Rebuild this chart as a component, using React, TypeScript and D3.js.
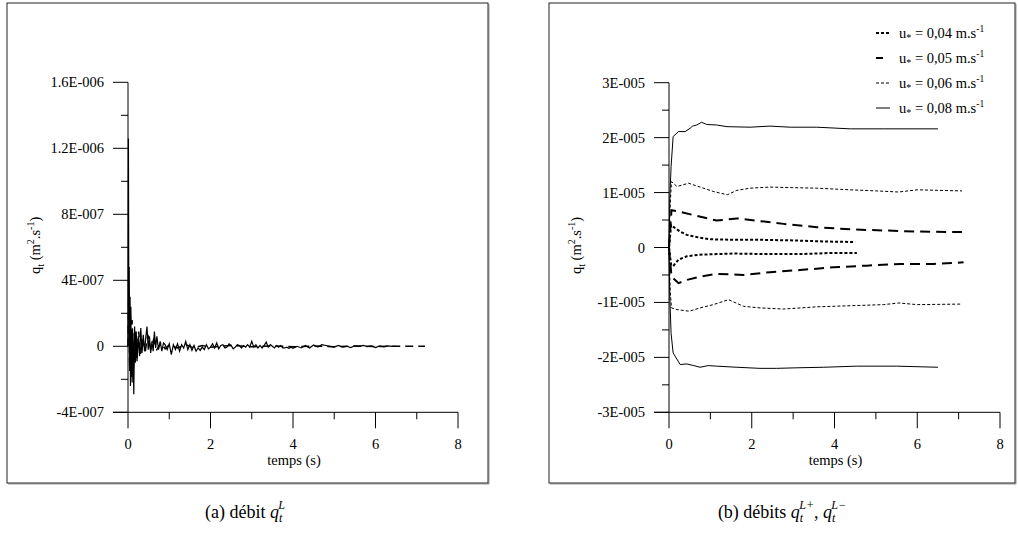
import React from "react";
import * as d3 from "d3";

// ---------- data ----------
const X_TICKS = [0, 2, 4, 6, 8];
const X_MINOR = [1, 3, 5, 7];

const LEFT_Y_TICKS = [-4e-7, 0, 4e-7, 8e-7, 1.2e-6, 1.6e-6];
const LEFT_Y_LABELS = ["-4E-007", "0", "4E-007", "8E-007", "1.2E-006", "1.6E-006"];
const LEFT_Y_MINOR = [-2e-7, 2e-7, 6e-7, 1e-6, 1.4e-6];

const RIGHT_Y_TICKS = [-3e-5, -2e-5, -1e-5, 0, 1e-5, 2e-5, 3e-5];
const RIGHT_Y_LABELS = ["-3E-005", "-2E-005", "-1E-005", "0", "1E-005", "2E-005", "3E-005"];
const RIGHT_Y_MINOR = [-2.5e-5, -1.5e-5, -5e-6, 5e-6, 1.5e-5, 2.5e-5];

// left panel: q_t^L (values in 1E-7 m2/s)
const LEFT_UNIT = 1e-7;
const qL_solid: [number, number][] = [
  [0, 0], [0.01, 12.6], [0.02, 2], [0.03, 4.8], [0.04, -1.5], [0.05, 3.0], [0.06, -2.4],
  [0.07, 2.4], [0.08, -1.8], [0.09, 1.0], [0.1, -2.2], [0.12, 0.8], [0.14, -2.9], [0.16, 1.2],
  [0.18, -1.0], [0.2, 0.9], [0.22, -0.9], [0.25, 0.6], [0.28, -0.6], [0.31, 1.1], [0.34, -0.4],
  [0.37, 0.7], [0.4, -0.3], [0.43, 0.5], [0.46, 1.2], [0.49, -0.2], [0.52, 0.6], [0.55, -0.4],
  [0.58, 0.3], [0.61, -0.3], [0.64, 0.9], [0.67, -0.1], [0.7, 0.6], [0.74, -0.2], [0.78, 0.3],
  [0.82, -0.3], [0.86, 0.2], [0.9, 0.1], [0.95, -0.2], [1.0, 0.15], [1.05, -0.5], [1.1, 0.1],
  [1.15, -0.2], [1.2, 0.15], [1.25, -0.3], [1.3, 0.1], [1.35, -0.1], [1.4, 0.3], [1.45, -0.2],
  [1.5, 0.1], [1.55, -0.25], [1.6, 0.05], [1.65, -0.3], [1.7, -0.1], [1.75, -0.25], [1.8, -0.05],
  [1.85, -0.2], [1.9, 0.1], [1.95, -0.15], [2.0, -0.05], [2.05, 0.15], [2.1, -0.1], [2.15, 0.2],
  [2.2, -0.15], [2.25, 0.05], [2.3, 0.1], [2.35, -0.1], [2.4, -0.05], [2.45, 0.15], [2.5, 0.05],
  [2.55, -0.15], [2.6, -0.05], [2.65, 0.1], [2.7, 0.05], [2.75, -0.1], [2.8, 0.05], [2.85, -0.05],
  [2.9, 0.1], [2.95, -0.05], [3.0, 0.3], [3.05, -0.05], [3.1, 0.1], [3.15, -0.1], [3.2, 0.05],
  [3.25, -0.1], [3.3, 0.05], [3.35, 0.25], [3.4, -0.05], [3.45, 0.1], [3.5, 0.0], [3.55, -0.1],
  [3.6, 0.05], [3.65, -0.05], [3.7, 0.05], [3.75, -0.1], [3.8, -0.1], [3.85, -0.05], [3.9, -0.12],
  [3.95, -0.05], [4.0, -0.12], [4.1, 0.0], [4.2, -0.1], [4.3, 0.05], [4.4, -0.1], [4.5, 0.08],
  [4.6, -0.05], [4.7, 0.1], [4.8, 0.05], [4.9, 0.0], [5.0, -0.05], [5.1, 0.05], [5.2, -0.05],
  [5.3, 0.0], [5.4, -0.08], [5.5, 0.03], [5.6, 0.0], [5.7, 0.05], [5.8, -0.02], [5.9, 0.03],
  [6.0, -0.08], [6.1, 0.02], [6.2, -0.03], [6.3, 0.03], [6.4, 0.0], [6.5, 0.0],
];
const qL_dashed: [number, number][] = [
  [0, 0], [0.02, 3.2], [0.04, -1.2], [0.06, 2.0], [0.08, -2.0], [0.1, 1.6], [0.13, -1.4],
  [0.17, 0.9], [0.21, -0.7], [0.26, 0.9], [0.3, -0.5], [0.36, 0.4], [0.42, -0.3], [0.48, 0.7],
  [0.55, -0.2], [0.62, 0.4], [0.7, -0.2], [0.8, 0.2], [0.9, -0.15], [1.0, 0.1], [1.2, -0.1],
  [1.4, 0.1], [1.6, -0.1], [1.8, 0.05], [2.0, -0.05], [2.5, 0.05], [3.0, -0.03], [3.5, 0.03],
  [4.0, -0.03], [4.5, 0.02], [5.0, -0.02], [5.5, 0.02], [6.0, -0.01], [6.5, 0.0], [7.2, 0.0],
];

// right panel: q_t^{L+}, q_t^{L-} (values in 1E-5 m2/s)
const RIGHT_UNIT = 1e-5;
const u04_plus: [number, number][] = [
  [0, 0], [0.05, 0.41], [0.1, 0.38], [0.27, 0.29], [0.43, 0.23], [0.67, 0.19], [0.99, 0.15],
  [1.56, 0.14], [2.2, 0.14], [2.93, 0.13], [3.73, 0.11], [4.5, 0.1],
];
const u04_minus: [number, number][] = [
  [0, 0], [0.05, -0.31], [0.1, -0.34], [0.23, -0.22], [0.43, -0.16], [0.75, -0.13], [1.15, -0.12],
  [1.56, -0.11], [2.36, -0.12], [3.17, -0.12], [3.9, -0.1], [4.54, -0.1],
];
const u05_plus: [number, number][] = [
  [0, 0], [0.06, 0.68], [0.27, 0.65], [0.59, 0.59], [1.15, 0.49], [1.64, 0.53], [2.2, 0.48],
  [2.77, 0.43], [3.57, 0.37], [4.38, 0.33], [5.19, 0.31], [6.0, 0.29], [7.08, 0.28],
];
const u05_minus: [number, number][] = [
  [0, 0], [0.06, -0.53], [0.23, -0.65], [0.43, -0.59], [0.75, -0.53], [1.15, -0.48], [1.8, -0.5],
  [2.44, -0.45], [3.17, -0.41], [3.98, -0.36], [4.78, -0.33], [5.59, -0.3], [6.4, -0.3], [7.12, -0.27],
];
const u06_plus: [number, number][] = [
  [0, 0], [0.03, 0.8], [0.06, 1.2], [0.19, 1.11], [0.47, 1.17], [0.75, 1.1], [1.07, 1.02],
  [1.41, 0.96], [1.64, 1.04], [1.96, 1.08], [2.44, 1.1], [2.93, 1.09], [3.57, 1.08], [4.38, 1.05],
  [5.02, 1.03], [5.55, 1.01], [6.0, 1.05], [7.08, 1.03],
];
const u06_minus: [number, number][] = [
  [0, 0], [0.03, -0.8], [0.06, -1.1], [0.19, -1.13], [0.49, -1.16], [0.75, -1.1], [1.07, -1.04],
  [1.44, -0.95], [1.8, -1.07], [2.2, -1.1], [2.77, -1.12], [3.57, -1.08], [4.38, -1.06],
  [5.19, -1.04], [5.55, -1.01], [6.0, -1.04], [7.08, -1.03],
];
const u08_plus: [number, number][] = [
  [0, 0], [0.02, 0.9], [0.05, 1.47], [0.1, 2.02], [0.23, 2.11], [0.39, 2.11], [0.51, 2.17],
  [0.57, 2.21], [0.67, 2.23], [0.79, 2.28], [0.91, 2.24], [1.15, 2.23], [1.4, 2.2], [1.96, 2.19],
  [2.44, 2.21], [2.93, 2.19], [3.57, 2.19], [4.38, 2.16], [5.19, 2.16], [6.5, 2.16],
];
const u08_minus: [number, number][] = [
  [0, 0], [0.02, -0.9], [0.05, -1.56], [0.1, -1.92], [0.27, -2.13], [0.43, -2.12], [0.6, -2.15],
  [0.75, -2.18], [0.95, -2.15], [1.15, -2.16], [1.64, -2.18], [2.2, -2.2], [2.6, -2.2],
  [3.09, -2.19], [3.73, -2.18], [4.54, -2.16], [5.5, -2.16], [6.5, -2.18],
];

const LEGEND_LABELS = ["0,04", "0,05", "0,06", "0,08"];

// ---------- styles ----------
const FONT =
  '"Liberation Serif", "DejaVu Serif", "Noto Serif", Tinos, FreeSerif, "Nimbus Roman", "Nimbus Roman No9 L", "Times New Roman", Times, serif';
const STYLE04 = { width: 2, dash: "3,2" };
const STYLE05 = { width: 2, dash: "10,6" };
const STYLE06 = { width: 1, dash: "3,2" };
const STYLE08 = { width: 1, dash: "none" };

type Style = { width: number; dash: string };

function Axes({ x, y, yTicks, yLabels, yMinor, xLeft }: any) {
  const [x0, x1] = x.range();
  const [yb, yt] = y.range();
  return (
    <g style={{ fontFamily: FONT, fontSize: "14.5px" }} fill="#000">
      <line x1={x0} x2={x0} y1={yt} y2={yb} stroke="#000" strokeWidth={1} />
      <line x1={xLeft} x2={x1} y1={yb} y2={yb} stroke="#000" strokeWidth={1} />
      {yTicks.map((v: number, i: number) => (
        <g key={"yt" + i}>
          <line x1={xLeft} x2={x0} y1={y(v)} y2={y(v)} stroke="#000" />
          <text x={x0 - 24} y={y(v) + 5} textAnchor="end">{yLabels[i]}</text>
        </g>
      ))}
      {yMinor.map((v: number, i: number) => (
        <line key={"ym" + i} x1={x0 - 7} x2={x0} y1={y(v)} y2={y(v)} stroke="#000" />
      ))}
      {X_TICKS.map((v, i) => (
        <g key={"xt" + i}>
          <line x1={x(v)} x2={x(v)} y1={yb} y2={yb + 16} stroke="#000" />
          <text x={x(v)} y={yb + 37} textAnchor="middle">{v}</text>
        </g>
      ))}
      {X_MINOR.map((v, i) => (
        <line key={"xm" + i} x1={x(v)} x2={x(v)} y1={yb} y2={yb + 7} stroke="#000" />
      ))}
      <text x={(x0 + x1) / 2 + 1} y={yb + 53} textAnchor="middle">temps (s)</text>
      <text transform={`translate(${x0 - 88},${(yt + yb) / 2 - 2}) rotate(-90)`} textAnchor="middle">
        q<tspan style={{ fontSize: "10px" }} dy={4}>t</tspan>
        <tspan dy={-4}> (m</tspan>
        <tspan style={{ fontSize: "10px" }} dy={-6}>2</tspan>
        <tspan dy={6}>.s</tspan>
        <tspan style={{ fontSize: "10px" }} dy={-6}>-1</tspan>
        <tspan dy={6}>)</tspan>
      </text>
    </g>
  );
}

function Frame({ x0, x1, y0, y1 }: any) {
  return (
    <g>
      <line x1={x1 + 1} x2={x1 + 1} y1={y0 + 1} y2={y1 + 1} stroke="#999" strokeWidth={1} />
      <line x1={x0 + 1} x2={x1 + 1} y1={y1 + 1} y2={y1 + 1} stroke="#999" strokeWidth={1} />
      <rect x={x0} y={y0} width={x1 - x0} height={y1 - y0} fill="none" stroke="#222" strokeWidth={1} />
    </g>
  );
}

export default function App() {
  const xL = d3.scaleLinear().domain([0, 8]).range([128, 458]);
  const yL = d3.scaleLinear().domain([-4e-7, 1.6e-6]).range([412.3, 82.3]);
  const xR = d3.scaleLinear().domain([0, 8]).range([669, 1000]);
  const yR = d3.scaleLinear().domain([-3e-5, 3e-5]).range([412.3, 82.7]);

  const lineL = d3.line<[number, number]>().x((d) => xL(d[0])).y((d) => yL(d[1] * LEFT_UNIT));
  const lineR = d3.line<[number, number]>().x((d) => xR(d[0])).y((d) => yR(d[1] * RIGHT_UNIT));

  const rightSeries: { data: [number, number][]; s: Style }[] = [
    { data: u08_plus, s: STYLE08 }, { data: u08_minus, s: STYLE08 },
    { data: u06_plus, s: STYLE06 }, { data: u06_minus, s: STYLE06 },
    { data: u05_plus, s: STYLE05 }, { data: u05_minus, s: STYLE05 },
    { data: u04_plus, s: STYLE04 }, { data: u04_minus, s: STYLE04 },
  ];
  const legendStyles: Style[] = [STYLE04, STYLE05, STYLE06, STYLE08];
  const legendLen = [14, 7, 14, 14];

  return (
    <svg width={1018} height={534} style={{ position: "absolute", left: 0, top: 0, background: "#fff" }}>
      <rect x={0} y={0} width={1018} height={534} fill="#fff" />
      <Frame x0={7} x1={488} y0={3} y1={483} />
      <Frame x0={549} x1={1015} y0={3} y1={483} />

      {/* left panel */}
      <Axes x={xL} y={yL} yTicks={LEFT_Y_TICKS} yLabels={LEFT_Y_LABELS} yMinor={LEFT_Y_MINOR} xLeft={113} />
      <path d={lineL(qL_dashed) || ""} fill="none" stroke="#000" strokeWidth={1.5} strokeDasharray="8,5" />
      <path d={lineL(qL_solid) || ""} fill="none" stroke="#000" strokeWidth={1.2} />

      {/* right panel */}
      <Axes x={xR} y={yR} yTicks={RIGHT_Y_TICKS} yLabels={RIGHT_Y_LABELS} yMinor={RIGHT_Y_MINOR} xLeft={654} />
      {rightSeries.map((s, i) => (
        <path key={i} d={lineR(s.data) || ""} fill="none" stroke="#000" strokeWidth={s.s.width}
          strokeDasharray={s.s.dash} />
      ))}

      {/* legend */}
      <g style={{ fontFamily: FONT, fontSize: "14.5px" }}>
        {LEGEND_LABELS.map((lab, i) => {
          const yy = 33 + i * 25;
          return (
            <g key={lab}>
              <line x1={876} x2={876 + legendLen[i]} y1={yy} y2={yy} stroke="#000"
                strokeWidth={legendStyles[i].width} strokeDasharray={legendStyles[i].dash} />
              <text x={899} y={yy + 5}>
                u<tspan style={{ fontSize: "10px" }} dy={3}>*</tspan>
                <tspan dy={-3}>{` = ${lab} m.s`}</tspan>
                <tspan style={{ fontSize: "9.5px" }} dy={-6}>-1</tspan>
              </text>
            </g>
          );
        })}
      </g>

      {/* captions */}
      <g style={{ fontFamily: FONT, fontSize: "18px" }}>
        <text x={245} y={518} textAnchor="middle">
          (a)  débit <tspan fontStyle="italic">q</tspan>
          <tspan fontStyle="italic" style={{ fontSize: "12px" }} dy={4}>t</tspan>
          <tspan fontStyle="italic" style={{ fontSize: "12px" }} dx={-4} dy={-13}>L</tspan>
        </text>
        <text x={782} y={518} textAnchor="middle">
          (b) débits <tspan fontStyle="italic">q</tspan>
          <tspan fontStyle="italic" style={{ fontSize: "12px" }} dy={4}>t</tspan>
          <tspan fontStyle="italic" style={{ fontSize: "12px" }} dx={-4} dy={-13}>L+</tspan>
          <tspan dy={9}>, </tspan>
          <tspan fontStyle="italic">q</tspan>
          <tspan fontStyle="italic" style={{ fontSize: "12px" }} dy={4}>t</tspan>
          <tspan fontStyle="italic" style={{ fontSize: "12px" }} dx={-4} dy={-13}>L−</tspan>
        </text>
      </g>
    </svg>
  );
}
